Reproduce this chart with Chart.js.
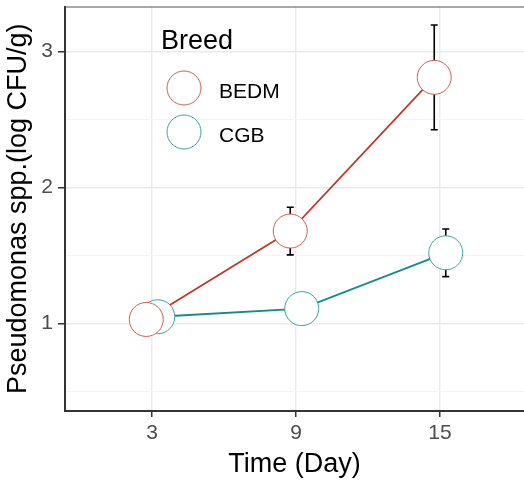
<!DOCTYPE html>
<html><head><meta charset="utf-8">
<script src="https://cdn.jsdelivr.net/npm/chart.js@4/dist/chart.umd.min.js"></script>
<style>html,body{margin:0;padding:0;background:#fff;overflow:hidden}canvas{display:block}</style>
</head><body>
<canvas id="c" width="524" height="480"></canvas>
<script>
// ---- data ----
const days = [3, 9, 15];
const breeds = ['BEDM', 'CGB'];
const bedmMean = [1.03, 1.68, 2.81];
const bedmErr = [0.05, 0.175, 0.385];
const cgbMean = [1.05, 1.11, 1.52];
const cgbErr = [0.05, 0.06, 0.175];
const xTicks = [3, 9, 15];
const yTicks = [1, 2, 3];
const yMinorTicks = [0.5, 1.5, 2.5];
const xTitle = 'Time (Day)';
const yTitle = 'Pseudomonas spp.(log CFU/g)';
const legendTitle = 'Breed';

// ---- styles ----
const FONT = '"Liberation Sans", Arial, sans-serif';
const lineColor = {BEDM: '#BE3A2C', CGB: '#0E8B8B'};
const edgeColor = {BEDM: '#CF5F52', CGB: '#39A3A3'};
const dodge = 0.24;
const pointR = 17;

const mk = (means, errs, sign) => days.map((d, i) => ({x: d + sign * dodge, y: means[i], err: errs[i]}));
const bedmPts = mk(bedmMean, bedmErr, -1);
const cgbPts = mk(cgbMean, cgbErr, 1);

const noPad = s => { s.paddingTop = 0; s.paddingBottom = 0; s.paddingLeft = 0; s.paddingRight = 0; };

const errorBars = {
  id: 'errorBars',
  beforeDatasetDraw(chart, args) {
    if (args.index !== 2) return;
    const ctx = chart.ctx, xs = chart.scales.x, ys = chart.scales.y;
    ctx.save();
    ctx.strokeStyle = '#000';
    ctx.lineWidth = 1.6;
    [bedmPts, cgbPts].forEach(pts => pts.forEach(p => {
      const x = xs.getPixelForValue(p.x);
      const y1 = ys.getPixelForValue(p.y - p.err), y2 = ys.getPixelForValue(p.y + p.err);
      ctx.beginPath();
      ctx.moveTo(x, y1); ctx.lineTo(x, y2);
      ctx.moveTo(x - 3.5, y1); ctx.lineTo(x + 3.5, y1);
      ctx.moveTo(x - 3.5, y2); ctx.lineTo(x + 3.5, y2);
      ctx.stroke();
    }));
    ctx.restore();
  }
};

const extras = {
  id: 'extras',
  afterDatasetsDraw(chart) {
    const ctx = chart.ctx, a = chart.chartArea;
    ctx.save();
    // top panel border
    ctx.strokeStyle = '#555';
    ctx.lineWidth = 1;
    ctx.beginPath(); ctx.moveTo(a.left, a.top + 0.5); ctx.lineTo(a.right, a.top + 0.5); ctx.stroke();
    // legend
    ctx.fillStyle = '#000';
    ctx.textBaseline = 'alphabetic';
    ctx.textAlign = 'left';
    ctx.font = '27px ' + FONT;
    ctx.fillText(legendTitle, 161, 49);
    ctx.font = '21px ' + FONT;
    breeds.forEach((b, i) => {
      const cy = 88 + i * 44;
      ctx.beginPath();
      ctx.arc(184, cy, pointR, 0, Math.PI * 2);
      ctx.fillStyle = '#fff'; ctx.fill();
      ctx.strokeStyle = edgeColor[b]; ctx.lineWidth = 1; ctx.stroke();
      ctx.fillStyle = '#000';
      ctx.fillText(b, 219, cy + 10);
    });
    ctx.restore();
  }
};

new Chart(document.getElementById('c'), {
  type: 'line',
  data: {
    datasets: [
      {label: 'BEDM line', data: bedmPts, borderColor: lineColor.BEDM, borderWidth: 1.8, pointRadius: 0, order: 3},
      {label: 'CGB line', data: cgbPts, borderColor: lineColor.CGB, borderWidth: 1.8, pointRadius: 0, order: 3},
      {label: 'CGB', data: cgbPts, showLine: false, pointRadius: pointR, pointBackgroundColor: '#fff', pointBorderColor: edgeColor.CGB, pointBorderWidth: 1, order: 2, clip: false},
      {label: 'BEDM', data: bedmPts, showLine: false, pointRadius: pointR, pointBackgroundColor: '#fff', pointBorderColor: edgeColor.BEDM, pointBorderWidth: 1, order: 1, clip: false}
    ]
  },
  options: {
    responsive: false,
    animation: false,
    devicePixelRatio: 1,
    layout: {autoPadding: false, padding: {top: 6.5, right: 0, left: 0, bottom: 0}},
    plugins: {legend: {display: false}, tooltip: {enabled: false}},
    elements: {line: {tension: 0}, point: {hoverRadius: pointR}},
    scales: {
      x: {
        type: 'linear', min: -0.625, max: 18.5,
        afterBuildTicks: s => { s.ticks = xTicks.map(v => ({value: v})); },
        afterFit: s => { s.height = 69; noPad(s); },
        grid: {color: '#EBEBEB', lineWidth: 1.5, tickColor: '#333', tickLength: 6, tickWidth: 1.5},
        border: {display: true, color: '#333', width: 2},
        ticks: {autoSkip: false, maxRotation: 0, padding: 4, color: '#4D4D4D', font: {family: FONT, size: 21}, callback: v => String(v)},
        title: {display: true, text: xTitle, color: '#000', font: {family: FONT, size: 27, lineHeight: 1}, padding: {top: 0, bottom: 1.5}}
      },
      y: {
        type: 'linear', min: 0.357, max: 3.331,
        afterBuildTicks: s => { s.ticks = yMinorTicks.concat(yTicks).sort((p, q) => p - q).map(v => ({value: v})); },
        afterFit: s => { s.width = 65; noPad(s); },
        grid: {
          color: c => (yTicks.includes(c.tick.value) ? '#EBEBEB' : '#F4F4F4'),
          lineWidth: c => (yTicks.includes(c.tick.value) ? 1.5 : 1),
          tickColor: c => (yTicks.includes(c.tick.value) ? '#333' : 'rgba(0,0,0,0)'),
          tickLength: 7, tickWidth: 1.5
        },
        border: {display: true, color: '#333', width: 2},
        ticks: {autoSkip: false, padding: 5, color: '#4D4D4D', font: {family: FONT, size: 21}, callback: v => (yTicks.includes(v) ? String(v) : '')},
        title: {display: true, text: yTitle, color: '#000', font: {family: FONT, size: 27, lineHeight: 1}, padding: {top: 5, bottom: 0}}
      }
    }
  },
  plugins: [errorBars, extras]
});
</script>
</body></html>
